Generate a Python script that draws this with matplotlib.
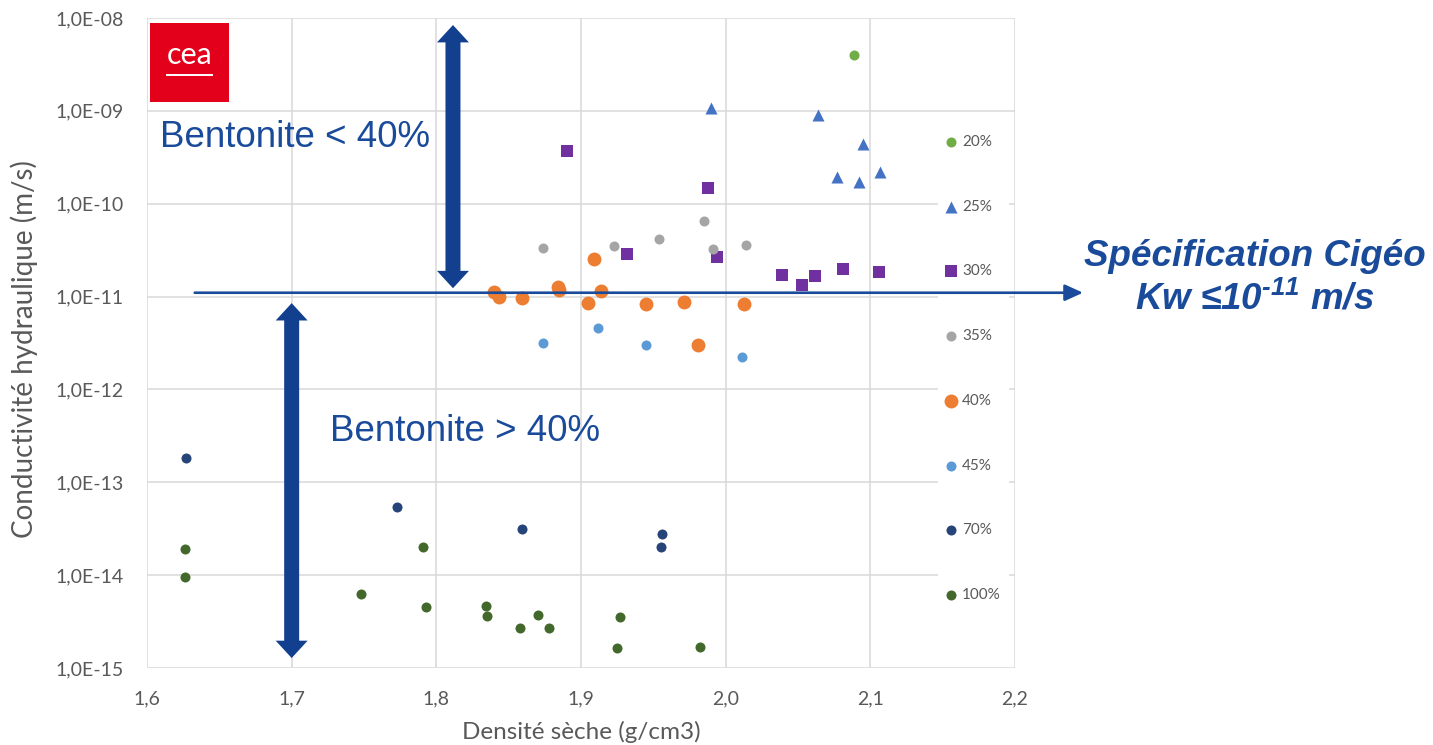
import math

import numpy as np
import matplotlib as mpl
mpl.use("Agg")
import matplotlib.pyplot as plt
from matplotlib.patches import ArrowStyle, FancyArrowPatch
from matplotlib.path import Path
from matplotlib.ticker import FixedLocator, FuncFormatter, NullLocator

mpl.rcParams.update({
	"font.family": ["Lato", "DejaVu Sans"],
	"mathtext.default": "regular",
})

GRAY = "#595959"
GRID = "#D9D9D9"
BLUE_TXT = "#1A4A9A"
BLUE_ARR = "#12408F"

# Bentonite content of each series
LABELS = ["20%", "25%", "30%", "35%", "40%", "45%", "70%", "100%"]

# dry density (g/cm3) and hydraulic conductivity (m/s)
d20 = [2.089]
k20 = [4.0e-9]

d25 = [1.990, 2.064, 2.095, 2.077, 2.092, 2.107]
k25 = [1.07e-9, 9.0e-10, 4.4e-10, 1.94e-10, 1.71e-10, 2.2e-10]

d30 = [1.890, 1.988, 1.932, 1.994, 2.039, 2.053, 2.062, 2.081, 2.106]
k30 = [3.7e-10, 1.48e-10, 2.88e-11, 2.67e-11, 1.71e-11, 1.33e-11, 1.67e-11, 1.98e-11, 1.84e-11]

d35 = [1.874, 1.923, 1.954, 1.985, 1.991, 2.014]
k35 = [3.33e-11, 3.5e-11, 4.17e-11, 6.5e-11, 3.25e-11, 3.6e-11]

d40 = [1.840, 1.843, 1.859, 1.884, 1.885, 1.909, 1.914, 1.905, 1.945, 1.971, 2.013, 1.981]
k40 = [1.12e-11, 9.9e-12, 9.7e-12, 1.27e-11, 1.18e-11, 2.54e-11, 1.15e-11, 8.5e-12, 8.3e-12, 8.7e-12, 8.3e-12, 3.0e-12]

d45 = [1.874, 1.912, 1.945, 2.011]
k45 = [3.16e-12, 4.6e-12, 3.0e-12, 2.23e-12]

d70 = [1.627, 1.773, 1.859, 1.956, 1.955]
k70 = [1.82e-13, 5.4e-14, 3.14e-14, 2.77e-14, 2.01e-14]

d100 = [1.626, 1.626, 1.791, 1.748, 1.793, 1.834, 1.835, 1.858, 1.870, 1.878, 1.927, 1.925, 1.982]
k100 = [1.91e-14, 9.6e-15, 2.03e-14, 6.2e-15, 4.5e-15, 4.7e-15, 3.6e-15, 2.68e-15, 3.75e-15, 2.68e-15, 3.57e-15, 1.63e-15, 1.70e-15]

XTICKS = [1.6, 1.7, 1.8, 1.9, 2.0, 2.1, 2.2]
YTICKS = [1e-15, 1e-14, 1e-13, 1e-12, 1e-11, 1e-10, 1e-9, 1e-8]

K_SPEC = 1.1e-11  # spec line, drawn slightly above 1E-11 in the original

SERIES = [(d20, k20), (d25, k25), (d30, k30), (d35, k35),
	(d40, k40), (d45, k45), (d70, k70), (d100, k100)]
COLORS = ["#70AD47", "#4472C4", "#7030A0", "#A5A5A5", "#ED7D31", "#5B9BD5", "#264478", "#43682B"]
MARKERS = ["o", "^", "s", "o", "o", "o", "o", "o"]
SIZES = [52, 75, 68, 52, 100, 52, 52, 52]


class DoubleBlock(ArrowStyle._Base):
	"""Straight block arrow with a filled head at both ends (one single polygon)."""

	def __init__(self, head_length=1.25, head_width=2.3, tail_width=1.08):
		self.head_length = head_length
		self.head_width = head_width
		self.tail_width = tail_width
		super().__init__()

	def transmute(self, path, mutation_size, linewidth):
		p0 = np.asarray(path.vertices[0], float)
		p1 = np.asarray(path.vertices[-1], float)
		d = p1 - p0
		d = d / np.hypot(*d)
		n = np.array([-d[1], d[0]])
		hl = self.head_length * mutation_size
		hw = self.head_width * mutation_size / 2
		tw = self.tail_width * mutation_size / 2
		b0 = p0 + d * hl
		b1 = p1 - d * hl
		verts = [p0, b0 + n * hw, b0 + n * tw, b1 + n * tw, b1 + n * hw, p1,
			b1 - n * hw, b1 - n * tw, b0 - n * tw, b0 - n * hw, p0]
		return Path(verts, closed=True), True


def double_arrow(ax, x, y0, y1):
	arr = FancyArrowPatch((x, y0), (x, y1), arrowstyle=DoubleBlock(), mutation_scale=10,
		fc=BLUE_ARR, ec="none", shrinkA=0, shrinkB=0, clip_on=False, zorder=5)
	ax.add_patch(arr)


fig = plt.figure(figsize=(14.33, 7.45), dpi=100)
ax = fig.add_axes([147 / 1433, 1 - 668 / 745, 868 / 1433, 650 / 745])

for (xs, ys), lab, c, m, s in zip(SERIES, LABELS, COLORS, MARKERS, SIZES):
	ax.scatter(xs, ys, s=s, c=c, marker=m, linewidths=0, label=lab, zorder=3)

ax.set_yscale("log")
ax.set_xlim(1.6, 2.2)
ax.set_ylim(1e-15, 1e-8)
ax.xaxis.set_major_locator(FixedLocator(XTICKS))
ax.yaxis.set_major_locator(FixedLocator(YTICKS))
ax.yaxis.set_minor_locator(NullLocator())
ax.xaxis.set_major_formatter(FuncFormatter(lambda v, p: ("%.1f" % v).replace(".", ",")))
ax.yaxis.set_major_formatter(FuncFormatter(lambda v, p: "1,0E-%02d" % round(-math.log10(v))))
ax.tick_params(length=0, labelsize=14, colors=GRAY)
ax.tick_params(axis="y", pad=17)
ax.tick_params(axis="x", pad=16)
ax.grid(True, color=GRID, lw=1.1)
for sp in ax.spines.values():
	sp.set_visible(False)
ax.set_axisbelow(True)

ax.set_xlabel("Densité sèche (g/cm3)", fontsize=17.5, color=GRAY, labelpad=10)
ax.set_ylabel("Conductivité hydraulique (m/s)", fontsize=20, color=GRAY)
ax.yaxis.set_label_coords(-0.126, 0.49)

leg = ax.legend(loc="center left", bbox_to_anchor=(0.911, 0.4608), borderaxespad=0,
	frameon=True, fancybox=False, facecolor="white", edgecolor="none", framealpha=1,
	fontsize=11, labelcolor=GRAY, handlelength=0.8, handletextpad=0.3,
	labelspacing=3.32, borderpad=0.5, scatterpoints=1)
leg.set_zorder(4)

# annotations
ax.annotate("", xy=(2.247, K_SPEC), xytext=(1.633, K_SPEC),
	arrowprops=dict(arrowstyle="-|>,head_length=0.55,head_width=0.25", mutation_scale=20,
		color=BLUE_TXT, lw=1.9, shrinkA=0, shrinkB=0),
	annotation_clip=False, zorder=5)
double_arrow(ax, 1.8115, 8.4e-9, 1.23e-11)
double_arrow(ax, 1.7, 8.5e-12, 1.28e-15)

ax.text(1.609, 5.2e-10, "Bentonite < 40%", fontsize=26.5, color=BLUE_TXT,
	family="Liberation Sans", va="center", ha="left")
ax.text(1.7265, 3.5e-13, "Bentonite > 40%", fontsize=26.5, color=BLUE_TXT,
	family="Liberation Sans", va="center", ha="left")

fig.text(1255 / 1433, 1 - 256 / 745, "Spécification Cigéo", fontsize=26.5, color=BLUE_TXT,
	family="Liberation Sans", weight="bold", style="italic", ha="center", va="center")
fig.text(1255 / 1433, 1 - 299 / 745, "Kw ≤10$^{\u2010" + "11}$ m/s", fontsize=26.5, color=BLUE_TXT,
	family="Liberation Sans", weight="bold", style="italic", ha="center", va="center")

# CEA logo
logo = fig.add_axes([150 / 1433, 1 - 102 / 745, 79 / 1433, 79 / 745])
logo.set_facecolor("#E2001A")
logo.set_xticks([])
logo.set_yticks([])
for sp in logo.spines.values():
	sp.set_visible(False)
logo.set_xlim(0, 1)
logo.set_ylim(0, 1)
logo.text(0.5, 0.6, "cea", color="white", fontsize=22, ha="center", va="center")
logo.plot([0.22, 0.79], [0.34, 0.34], color="white", lw=1.4)

fig.savefig("out.png", dpi=100)
